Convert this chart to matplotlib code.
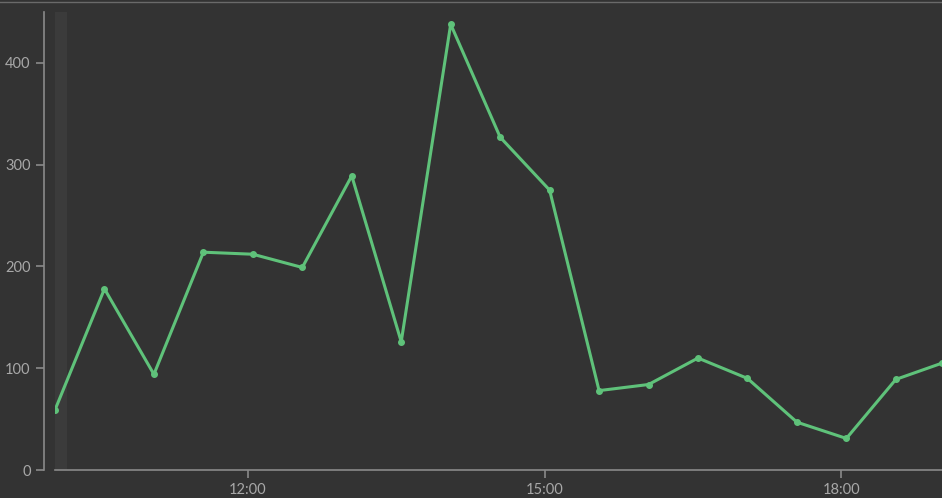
import matplotlib
matplotlib.use('Agg')
import matplotlib.pyplot as plt
import matplotlib.dates as mdates
from matplotlib.lines import Line2D
import pandas as pd

# data
times = ['10:03', '10:33', '11:03', '11:33', '12:03', '12:33', '13:03', '13:33',
         '14:03', '14:33', '15:03', '15:33', '16:03', '16:33', '17:03', '17:33',
         '18:03', '18:33', '19:01']
values = [59, 178, 94, 214, 212, 199, 289, 126, 438, 327, 275, 78, 84, 110, 90, 47, 31, 89, 105]

x = pd.to_datetime(['2020-01-01 ' + t for t in times])

plt.rcParams['font.family'] = ['Lato', 'DejaVu Sans']
bg = '#333333'
fg = '#a8a8a8'

fig = plt.figure(figsize=(9.42, 4.98), dpi=100, facecolor=bg)
ax = fig.add_axes([55/942, 28/498, 887/942, 458/498], facecolor=bg)

# thin frame line along the very top of the picture
fig.add_artist(Line2D([0, 1], [1 - 2/498, 1 - 2/498], color='#6a6a6a', lw=1))

# lighter band at the left edge
ax.axvspan(x[0], x[0] + pd.Timedelta(minutes=7), ymin=0, ymax=1, color='#3b3b3b', zorder=0, lw=0)

ax.plot(x, values, color='#5fc27a', lw=2.2, marker='o', ms=4, zorder=3)

ax.set_xlim(x[0], x[-1])
ax.set_ylim(0, 450)
ax.set_yticks([0, 100, 200, 300, 400])
ax.xaxis.set_major_locator(mdates.HourLocator(byhour=[12, 15, 18]))
ax.xaxis.set_major_formatter(mdates.DateFormatter('%H:%M'))

for s in ['top', 'right']:
    ax.spines[s].set_visible(False)
ax.spines['left'].set_position(('outward', 8))
for s in ['left', 'bottom']:
    ax.spines[s].set_color('#8a8a8a')
    ax.spines[s].set_linewidth(1.2)
ax.tick_params(colors=fg, labelsize=10.5, length=6, width=1.2)
ax.tick_params(axis='both', color='#8a8a8a')

fig.savefig('out.png', dpi=100, facecolor=bg)
